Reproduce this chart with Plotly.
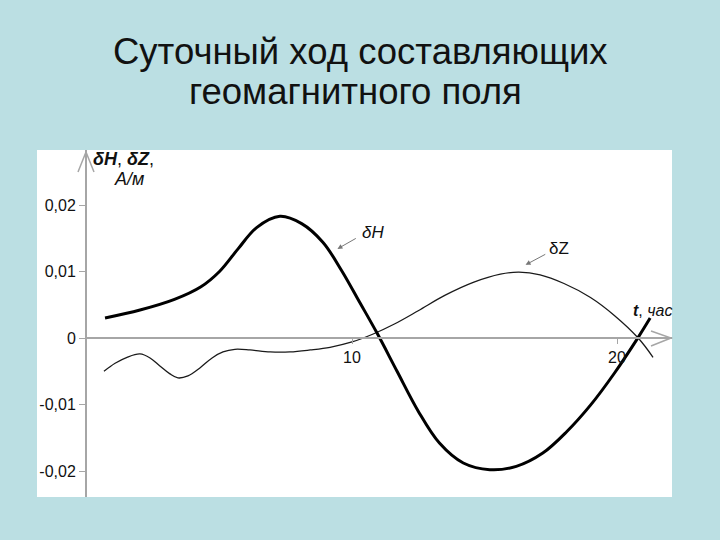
import plotly.graph_objects as go

# ---- data ----
t_H = [0.68, 2.0, 3.3, 4.3, 5.0, 5.7, 6.4, 7.28, 8.1, 8.9, 9.6, 10.3, 10.95, 11.7, 12.5, 13.3,
       14.2, 15.2, 16.2, 17.2, 18.1, 19.0, 19.9, 20.8, 21.25]
dH = [0.0030, 0.0042, 0.0058, 0.0077, 0.0100, 0.0134, 0.0166, 0.0183, 0.0172, 0.0144, 0.0102,
      0.0053, 0.0007, -0.0050, -0.0110, -0.0158, -0.0188, -0.0198, -0.0193, -0.0173, -0.0141,
      -0.0101, -0.0053, 0.0001, 0.0030]

t_Z = [0.64, 1.06, 1.51, 2.0, 2.38, 2.75, 3.13, 3.43, 3.81, 4.26, 4.72, 5.13, 5.58, 6.15, 6.91,
       7.66, 8.42, 9.17, 10.0, 10.8, 11.6, 12.5, 13.5, 14.6, 15.6, 16.3, 17.1, 18.0, 19.0, 19.9,
       20.8, 21.36]
dZ = [-0.0050, -0.0038, -0.0029, -0.0024, -0.0030, -0.0042, -0.0054, -0.0060, -0.0057, -0.0045,
      -0.0030, -0.0021, -0.0017, -0.0018, -0.0021, -0.0021, -0.0018, -0.0014, -0.0006, 0.0006,
      0.0021, 0.0041, 0.0064, 0.0084, 0.0096, 0.0099, 0.0095, 0.0082, 0.0061, 0.0034, 0.0,
      -0.0029]

y_tickvals = [0.02, 0.01, 0, -0.01, -0.02]
y_ticktext = ["0,02", "0,01", "0", "-0,01", "-0,02"]
x_tickvals = [10, 20]
x_ticktext = ["10", "20"]

# ---- layout geometry ----
L, R, T, B = 37, 672, 150, 497
W, H = R - L, B - T
X0PIX = 87
XMAX = (R - X0PIX) / 26.5
YMIN, YMAX = -0.02391, 0.02827


def px(x):
    return (x - L) / W


def py(y):
    return (B - y) / H


FONT = "Liberation Sans, Arial, sans-serif"
AX = "#a6a6a6"

fig = go.Figure()
fig.add_trace(go.Scatter(x=t_Z, y=dZ, mode="lines", line=dict(color="#1a1a1a", width=1.3, shape="spline", smoothing=1.0),
                         hoverinfo="skip", showlegend=False))
fig.add_trace(go.Scatter(x=t_H, y=dH, mode="lines", line=dict(color="#000000", width=3, shape="spline", smoothing=1.0),
                         hoverinfo="skip", showlegend=False))

shapes = [
    dict(type="rect", xref="paper", yref="paper", x0=0, x1=1, y0=0, y1=1, fillcolor="white",
         line=dict(width=0), layer="below"),
    # y-axis arrow
    dict(type="path", xref="paper", yref="paper",
         path=f"M {px(78)} {py(172)} L {px(86)} {py(152)} L {px(94)} {py(172)}",
         line=dict(color=AX, width=1.5)),
    # x-axis arrow
    dict(type="path", xref="paper", yref="paper",
         path=f"M {px(651)} {py(331)} L {px(671)} {py(338)} L {px(651)} {py(346)}",
         line=dict(color=AX, width=1.5)),
]

annotations = [
    dict(text="Суточный ход составляющих", xref="paper", yref="paper", x=px(360), y=py(52),
         showarrow=False, font=dict(family=FONT, size=36.5, color="#111111"), xanchor="center", yanchor="middle"),
    dict(text="геомагнитного поля", xref="paper", yref="paper", x=px(355), y=py(92),
         showarrow=False, font=dict(family=FONT, size=36.5, color="#111111"), xanchor="center", yanchor="middle"),
    dict(text="<b><i>δH</i></b>, <b><i>δZ</i></b>,", xref="paper", yref="paper", x=px(91), y=py(159),
         showarrow=False, font=dict(family=FONT, size=18, color="#111111"), xanchor="left", yanchor="middle"),
    dict(text="<i>А/м</i>", xref="paper", yref="paper", x=px(129), y=py(179),
         showarrow=False, font=dict(family=FONT, size=18, color="#111111"), xanchor="center", yanchor="middle"),
    dict(text="<b><i>t</i></b>, <i>час</i>", xref="paper", yref="paper", x=px(674), y=py(310),
         showarrow=False, font=dict(family=FONT, size=16, color="#111111"), xanchor="right", yanchor="middle"),
    # curve labels
    dict(text="<i>δH</i>", x=10.78, y=0.0159, showarrow=False,
         font=dict(family=FONT, size=17, color="#111111")),
    dict(text="", x=9.45, y=0.0134, ax=10.2, ay=0.0151, axref="x", ayref="y",
         showarrow=True, arrowhead=2, arrowsize=1, arrowwidth=1, arrowcolor="#777777", standoff=0),
    dict(text="δZ", x=17.8, y=0.0135, showarrow=False,
         font=dict(family=FONT, size=17, color="#111111")),
    dict(text="", x=16.55, y=0.0110, ax=17.35, ay=0.0127, axref="x", ayref="y",
         showarrow=True, arrowhead=2, arrowsize=1, arrowwidth=1, arrowcolor="#777777", standoff=0),
]

fig.update_layout(
    width=720, height=540,
    margin=dict(l=L, r=720 - R, t=T, b=540 - B, pad=0),
    paper_bgcolor="#bbdfe3",
    plot_bgcolor="white",
    shapes=shapes,
    annotations=annotations,
    xaxis=dict(domain=[(X0PIX - L) / W, 1], range=[0, XMAX], anchor="free",
               position=(0 - YMIN) / (YMAX - YMIN),
               showline=True, linecolor=AX, linewidth=2, showgrid=False, zeroline=False,
               tickvals=x_tickvals, ticktext=x_ticktext, ticks="outside", ticklen=5, tickcolor=AX,
               tickfont=dict(family=FONT, size=16, color="#111111")),
    yaxis=dict(domain=[0, 1], range=[YMIN, YMAX], anchor="x",
               showline=True, linecolor=AX, linewidth=2, showgrid=False, zeroline=False,
               tickvals=y_tickvals, ticktext=y_ticktext, ticks="outside", ticklen=6, tickcolor=AX,
               tickfont=dict(family=FONT, size=16, color="#111111")),
    showlegend=False,
)

fig.write_html("out.html", config={"displayModeBar": False},
               post_script="document.body.style.margin='0';document.body.style.background='#bbdfe3';")
